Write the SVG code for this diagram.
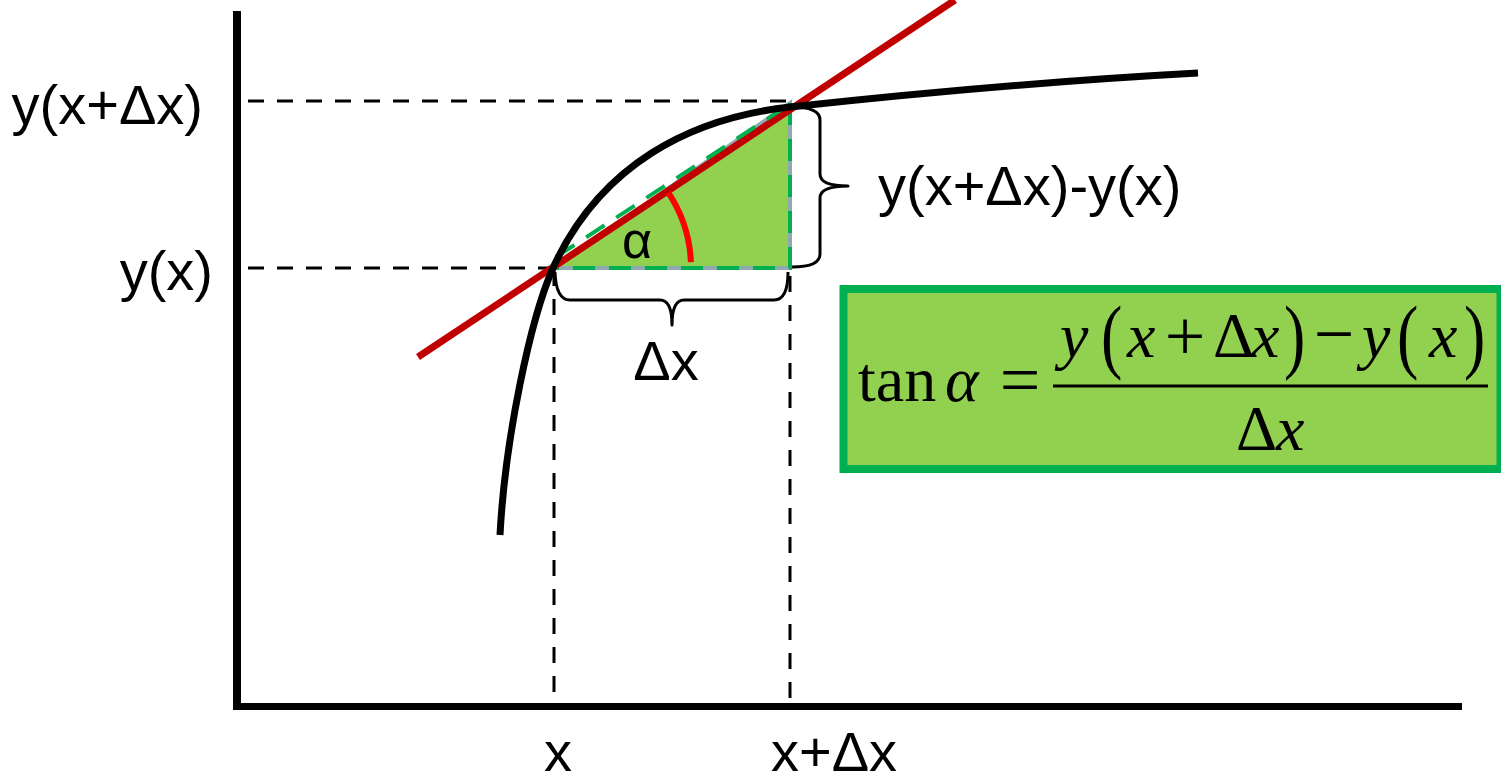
<svg xmlns="http://www.w3.org/2000/svg" width="1501" height="777" viewBox="0 0 1501 777">
<style>
.dash{stroke:#000;stroke-width:3;stroke-dasharray:16 13;fill:none}
.brace{stroke:#000;stroke-width:3;fill:none;stroke-linejoin:round}
.lbl{font-family:"Liberation Sans",Arial,sans-serif;font-size:56px;fill:#000}
.m{font-family:"Liberation Serif","Times New Roman",serif;font-size:64px;fill:#000}
.i{font-style:italic}
.op{font-size:72px}
</style>
<rect width="1501" height="777" fill="#fff"/>
<g id="guides">
<line class="dash" x1="248" y1="101" x2="790" y2="101"/>
<line class="dash" x1="248" y1="268" x2="555" y2="268"/>
<line class="dash" x1="554" y1="270" x2="554" y2="706"/>
<line class="dash" x1="790" y1="102" x2="790" y2="706"/>
</g>
<g id="triangle">
<polygon points="555,268 790,103 790,268" fill="#92D050" stroke="#8FA9B0" stroke-width="4"/>
<polyline points="790,103 790,268 555,268" fill="none" stroke="#00B050" stroke-width="4" stroke-dasharray="22 14"/>
</g>
<g id="connectors">
<line id="tangent" x1="418" y1="357" x2="955" y2="0" stroke="#C00000" stroke-width="7"/>
<line id="hypotenuse" x1="556" y1="257" x2="790" y2="104" stroke="#00B050" stroke-width="4" stroke-dasharray="22 14"/>
<path id="curve" d="M500,535 C505,440 530,320 553,268 C600,165 690,118 790,107 C900,95 1050,81 1198,73" fill="none" stroke="#000" stroke-width="7"/>
<path id="angle-arc" d="M668.3,192.7 A136,136 0 0 1 690.9,262.1" fill="none" stroke="#FF0000" stroke-width="6"/>
<path id="brace-dy" class="brace" d="M792,107 Q820,107 820,120 L820,174 Q820,186 848,186 Q820,186 820,198 L820,254 Q820,267 792,267"/>
<path id="brace-dx" class="brace" d="M555,272 Q556,300 570,300 L660,300 Q672,300 672,325 Q672,300 684,300 L774,300 Q788,300 788,272"/>
</g>
<g id="axes">
<line x1="237" y1="11" x2="237" y2="710" stroke="#000" stroke-width="8"/>
<line x1="233" y1="706.5" x2="1462" y2="706.5" stroke="#000" stroke-width="7"/>
</g>
<g id="labels">
<text class="lbl" x="203" y="124" text-anchor="end">y(x+Δx)</text>
<text class="lbl" x="213" y="290" text-anchor="end">y(x)</text>
<text class="lbl" x="878" y="205">y(x+Δx)-y(x)</text>
<text class="lbl" x="666" y="380" text-anchor="middle">Δx</text>
<text class="lbl" x="558" y="771" text-anchor="middle">x</text>
<text class="lbl" x="834" y="771" text-anchor="middle">x+Δx</text>
<text class="lbl" x="637" y="258" text-anchor="middle" style="font-size:52px">α</text>
</g>
<g id="formula">
<rect x="843.5" y="289" width="657" height="180" fill="#92D050" stroke="#00B050" stroke-width="8"/>
<text class="m" x="858" y="401">tan</text>
<text class="m i" x="945" y="401">α</text>
<text class="m op" x="1020" y="404" text-anchor="middle">=</text>
<line x1="1053" y1="386" x2="1488" y2="386" stroke="#000" stroke-width="3"/>
<text class="m i" x="1060" y="357">y</text>
<text class="m" transform="translate(1101,363) scale(1,1.3)">(</text>
<text class="m i" x="1127" y="357">x</text>
<text class="m op" x="1185" y="360" text-anchor="middle">+</text>
<text class="m" x="1213" y="357">Δ</text>
<text class="m i" x="1251" y="357">x</text>
<text class="m" transform="translate(1284,363) scale(1,1.3)">)</text>
<text class="m op" x="1334" y="358" text-anchor="middle">−</text>
<text class="m i" x="1362" y="357">y</text>
<text class="m" transform="translate(1397,363) scale(1,1.3)">(</text>
<text class="m i" x="1429" y="357">x</text>
<text class="m" transform="translate(1464,363) scale(1,1.3)">)</text>
<text class="m" x="1236" y="450">Δ</text>
<text class="m i" x="1276" y="450">x</text>
</g>
</svg>
